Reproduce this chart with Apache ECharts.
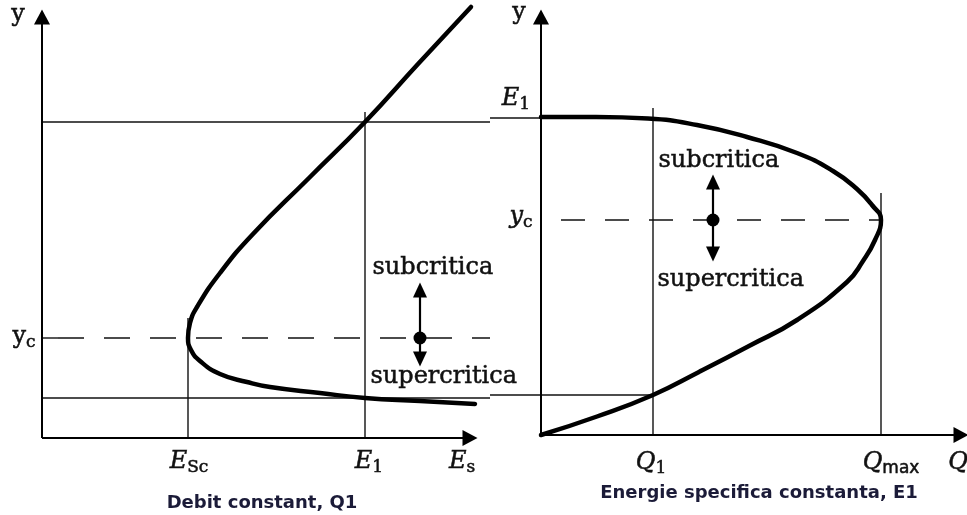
<!DOCTYPE html>
<html>
<head>
<meta charset="utf-8">
<script src="https://cdn.jsdelivr.net/npm/echarts@6/dist/echarts.min.js"></script>
<style>
  html, body { margin: 0; padding: 0; background: #fff; }
  #chart { width: 967px; height: 515px; }
</style>
</head>
<body>
<div id="chart"></div>
<script>
// ---- Left panel: depth y against specific energy Es, constant discharge Q1 ----
const energyCurve = [
  [4.29, 4.31], [3.76, 3.74], [3.23, 3.16], [2.67, 2.60], [2.11, 2.04],
  [1.78, 1.65], [1.55, 1.31], [1.48, 1.15], [1.46, 1.00], [1.49, 0.88],
  [1.58, 0.77], [1.78, 0.64], [2.05, 0.56], [2.28, 0.51], [2.78, 0.45],
  [3.23, 0.40], [3.78, 0.37], [4.33, 0.34]
];
const energyTicks = [1.46, 3.23];          // E_Sc, E1
const energyTickTops = [1.20, 3.26];       // top of the guide line drawn at each tick
const energyDepths = [3.16, 1.00, 0.40];   // subcritical, critical, supercritical depth
const energyArrow = [3.78, 1.48, 1.00, 0.79]; // x, upper head, dot, lower head
const energyAxisEnds = [4.28, 4.21];       // arrow ends of the Es and y axes

// ---- Right panel: depth y against discharge Q, constant specific energy E1 ----
const dischargeCurve = [
  [0.00, 3.18], [0.55, 3.18], [1.07, 3.165], [1.56, 3.10], [2.06, 2.98],
  [2.56, 2.82], [2.92, 2.64], [3.16, 2.46], [3.31, 2.30], [3.40, 2.15],
  [3.34, 1.95], [3.22, 1.74], [3.06, 1.53], [2.56, 1.15], [2.08, 0.89],
  [1.58, 0.63], [1.12, 0.40], [0.56, 0.185], [0.00, 0.00]
];
const dischargeTicks = [1.12, 3.40];        // Q1, Qmax
const dischargeTickTops = [3.27, 2.42];
const dischargeDepths = [3.17, 2.15, 0.40]; // E1 level, critical, supercritical at Q1
const dischargeArrow = [1.72, 2.53, 2.15, 1.81];
const dischargeAxisEnds = [4.20, 4.18];

const INK = '#111';
const SERIF = 'DejaVu Serif';

function segment(g, pts, dash) {
  return {
    type: 'line', xAxisIndex: g, yAxisIndex: g, data: pts,
    symbol: 'none', clip: false, silent: true, z: 2,
    lineStyle: { color: INK, width: 1.4, type: dash || 'solid' }
  };
}

function curve(g, pts) {
  return {
    type: 'line', xAxisIndex: g, yAxisIndex: g, data: pts,
    symbol: 'none', smooth: 0.5, clip: false, silent: true, z: 5,
    lineStyle: { color: '#000', width: 4.5, cap: 'round', join: 'round' }
  };
}

// Arrow-headed segments (axes and the flow-regime arrows)
function arrows(g, pairs, width, size) {
  return {
    type: 'line', xAxisIndex: g, yAxisIndex: g, data: [], silent: true,
    markLine: {
      silent: true, animation: false,
      symbol: ['none', 'triangle'], symbolSize: size,
      label: { show: false },
      lineStyle: { color: '#000', width: width, type: 'solid' },
      data: pairs.map(p => [{ coord: p[0] }, { coord: p[1] }])
    }
  };
}

function regimeArrow(g, a) {
  const [x, top, mid, bottom] = a;
  return [
    arrows(g, [[[x, mid], [x, top]], [[x, mid], [x, bottom]]], 2.2, [14, 15]),
    {
      type: 'scatter', xAxisIndex: g, yAxisIndex: g, data: [[x, mid]],
      symbol: 'circle', symbolSize: 13, silent: true, z: 6,
      itemStyle: { color: '#000', opacity: 1 }
    }
  ];
}

function axesOf(g, ends) {
  return arrows(g, [[[0, 0], [ends[0], 0]], [[0, 0], [0, ends[1]]]], 2, [16, 15]);
}

const heavy = { textBorderColor: INK, textBorderWidth: 0.5 };
const rich = {
  e: Object.assign({ fontFamily: SERIF, fontStyle: 'italic', fontSize: 24, color: INK, lineHeight: 26, padding: [0, 0, 4, 0], verticalAlign: 'top' }, heavy),
  u: Object.assign({ fontFamily: SERIF, fontSize: 24, color: INK, lineHeight: 26, padding: [0, 0, 4, 0], verticalAlign: 'top' }, heavy),
  s: Object.assign({ fontFamily: SERIF, fontSize: 17, color: INK, lineHeight: 17, verticalAlign: 'bottom' }, heavy),
  ss: Object.assign({ fontFamily: 'DejaVu Sans', fontSize: 17, color: INK, lineHeight: 17, verticalAlign: 'bottom' }, heavy)
};

function text(g, pt, formatter, extra) {
  return {
    type: 'scatter', xAxisIndex: g, yAxisIndex: g, data: [pt],
    symbolSize: 1, clip: false, silent: true, z: 8,
    itemStyle: { color: 'transparent', opacity: 1 },
    label: Object.assign({
      show: true, position: 'inside', formatter: formatter, rich: rich,
      fontFamily: SERIF, fontSize: 24, color: INK,
      textBorderColor: INK, textBorderWidth: 0.5
    }, extra || {})
  };
}

const caption = {
  fontFamily: 'DejaVu Sans', fontWeight: 'bold', fontSize: 18, color: '#1b1b38',
  textBorderWidth: 0
};
const sideText = { position: 'right', distance: 0 };

function axis(g, min, max) {
  return {
    gridIndex: g, type: 'value', min: min, max: max,
    axisLine: { show: false }, axisTick: { show: false },
    axisLabel: { show: false }, splitLine: { show: false }
  };
}

const left = 0, right = 1;
const [eSc, e1] = energyTicks;
const [ySub, ycL, ySup] = energyDepths;
const [q1, qMax] = dischargeTicks;
const [e1R, ycR, y1R] = dischargeDepths;

const series = [
  axesOf(left, energyAxisEnds),
  axesOf(right, dischargeAxisEnds),
  // left guides
  segment(left, [[0, ySub], [4.48, ySub]]),
  segment(left, [[0, ySup], [4.48, ySup]]),
  segment(left, [[0.16, ycL], [4.48, ycL]], [26, 20]),
  segment(left, [[0, ycL], [0.16, ycL]]),
  segment(left, [[eSc, 0], [eSc, energyTickTops[0]]]),
  segment(left, [[e1, 0], [e1, energyTickTops[1]]]),
  curve(left, energyCurve),
  ...regimeArrow(left, energyArrow),
  // right guides
  segment(right, [[-0.51, e1R], [q1, e1R]]),
  segment(right, [[-0.51, y1R], [q1, y1R]]),
  segment(right, [[0.2, ycR], [qMax, ycR]], [24, 20]),
  segment(right, [[q1, 0], [q1, dischargeTickTops[0]]]),
  segment(right, [[qMax, 0], [qMax, dischargeTickTops[1]]]),
  curve(right, dischargeCurve),
  ...regimeArrow(right, dischargeArrow),
  // left labels
  text(left, [-0.24, 4.22], '{u|y}'),
  text(left, [-0.18, 1.00], '{u|y}{s|c}'),
  text(left, [1.47, -0.25], '{e|E}{s|Sc}'),
  text(left, [3.27, -0.25], '{e|E}{s|1}'),
  text(left, [4.20, -0.25], '{e|E}{s|s}'),
  text(left, [3.30, 1.70], 'subcritica', sideText),
  text(left, [3.28, 0.61], 'supercritica', sideText),
  text(left, [2.20, -0.65], 'Debit constant, Q1', caption),
  // right labels
  text(right, [-0.22, 4.21], '{u|y}'),
  text(right, [-0.25, 3.35], '{e|E}{s|1}'),
  text(right, [-0.20, 2.17], '{e|y}{s|c}'),
  text(right, [1.10, -0.29], '{e|Q}{s|1}'),
  text(right, [3.50, -0.29], '{e|Q}{ss|max}'),
  text(right, [4.17, -0.29], '{e|Q}'),
  text(right, [1.17, 2.74], 'subcritica', sideText),
  text(right, [1.16, 1.55], 'supercritica', sideText),
  text(right, [2.18, -0.58], 'Energie specifica constanta, E1', caption)
];

const chart = echarts.init(document.getElementById('chart'), null, { renderer: 'canvas' });
chart.setOption({
  animation: false,
  backgroundColor: '#fff',
  grid: [
    { left: 42, top: 7, right: 477, bottom: 77 },
    { left: 490, top: 10, right: 0, bottom: 80 }
  ],
  xAxis: [axis(0, 0, 4.48), axis(1, -0.51, 4.26)],
  yAxis: [axis(0, 0, 4.31), axis(1, 0, 4.25)],
  series: series
});
</script>
</body>
</html>
